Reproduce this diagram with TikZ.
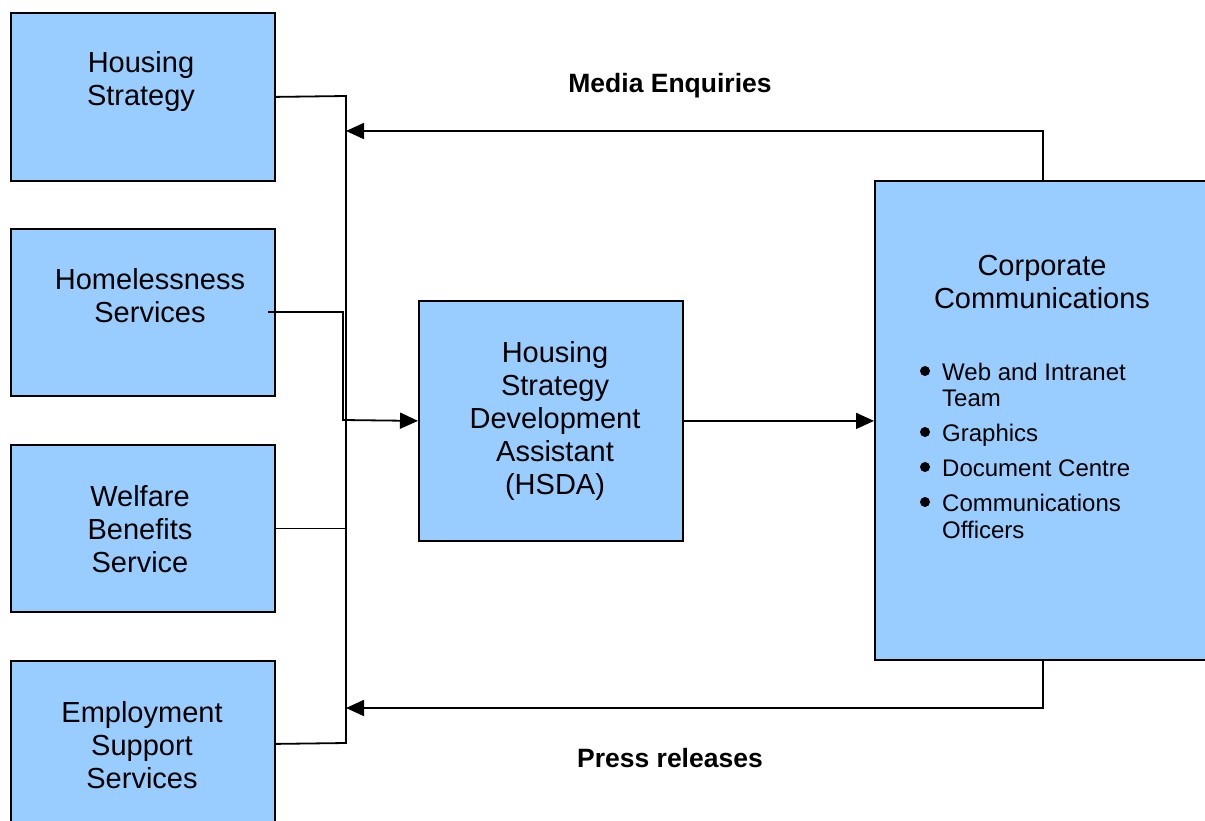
\documentclass[tikz,border=0pt]{standalone}
\usepackage{fontspec}
\setmainfont{Liberation Sans}
\usetikzlibrary{arrows.meta}
\definecolor{boxblue}{HTML}{99CCFF}
\tikzset{
  box/.style={draw=black, line width=1.8pt, fill=boxblue, inner sep=0pt, anchor=north west},
  boxtext/.style={align=center, font=\fontsize{29}{33}\selectfont, inner sep=0pt},
  itemtext/.style={anchor=base west, font=\fontsize{24}{27}\selectfont, inner sep=0pt},
  labeltext/.style={font=\fontsize{26.5}{29}\selectfont\bfseries, inner sep=0pt},
  bullet/.style={circle, fill=black, inner sep=0pt, minimum size=10pt},
  conn/.style={line width=1.8pt},
  arr/.style={line width=1.8pt, -{Triangle[length=18pt,width=16pt]}}
}
\begin{document}
\begin{tikzpicture}[x=1pt,y=-1pt]
\useasboundingbox (0,0) rectangle (1205,820);
\clip (0,0) rectangle (1205,820);
% boxes
\node[box, minimum width=264pt, minimum height=168pt] (hs) at (10,12) {};
\node[box, minimum width=264pt, minimum height=167pt] (hl) at (10,228) {};
\node[box, minimum width=264pt, minimum height=167pt] (ws) at (10,444) {};
\node[box, minimum width=264pt, minimum height=166pt] (es) at (10,660) {};
\node[box, minimum width=264pt, minimum height=240pt] (hsda) at (418,300) {};
\node[box, minimum width=336pt, minimum height=479pt] (cc) at (874,180) {};
% box texts
\node[boxtext] (hst) at (141,81) {Housing\\Strategy};
\node[boxtext] (hlt) at (150,296) {Homelessness\\Services};
\node[boxtext] (wst) at (140,529) {Welfare\\Benefits\\Service};
\node[boxtext] (est) at (142,745) {Employment\\Support\\Services};
\node[boxtext] (hsdat) at (555,421) {Housing\\Strategy\\Development\\Assistant\\(HSDA)};
\node[boxtext] (cct) at (1042,282) {Corporate\\Communications};
% bullets
\node[bullet] (b1) at (925,371) {};
\node[bullet] (b2) at (925,432) {};
\node[bullet] (b3) at (925,467) {};
\node[bullet] (b4) at (925,502) {};
\node[itemtext] (i1) at (942,380) {Web and Intranet};
\node[itemtext] (i1b) at (942,406) {Team};
\node[itemtext] (i2) at (942,441) {Graphics};
\node[itemtext] (i3) at (942,476) {Document Centre};
\node[itemtext] (i4) at (942,511) {Communications};
\node[itemtext] (i4b) at (942,538) {Officers};
% labels
\node[labeltext] (me) at (670,86) {Media Enquiries};
\node[labeltext] (pr) at (670,758) {Press releases};
% coordinates
\coordinate (busT) at (346,96);
\coordinate (busB) at (346,743);
\coordinate (hlA) at (268,312);
\coordinate (hlB) at (343,312);
\coordinate (hlC) at (343,420);
\coordinate (mT) at (346,131);
\coordinate (mB) at (346,708);
% connectors
\draw[conn] (hs.east) -- (busT) -- (busB) -- (es.east);
\draw[conn] (ws.east) -- (ws.east -| busT);
\draw[arr] (hlA) -- (hlB) -- (hlC) -- (hsda.west);
\draw[arr] (hsda.east) -- (cc.west |- hsda.east);
\draw[arr] (cc.north) |- (mT);
\draw[arr] (cc.south) |- (mB);
\end{tikzpicture}
\end{document}
